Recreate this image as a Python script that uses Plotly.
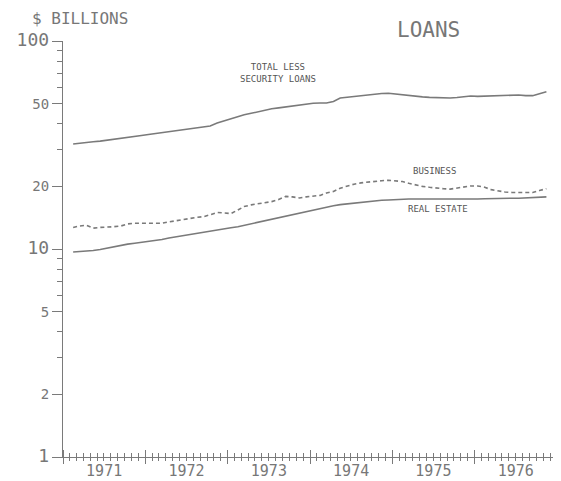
import plotly.graph_objects as go
import pandas as pd

# monthly observations, Feb 1971 - Nov 1976 (plotted mid-month)
months = pd.date_range("1971-02-01", periods=70, freq="MS") + pd.Timedelta(days=14)

total_less_security = [
    32.0, 32.3, 32.5, 32.8, 33.0, 33.3, 33.6, 34.0, 34.4, 34.8, 35.1, 35.5,
    35.9, 36.3, 36.6, 37.0, 37.5, 37.9, 38.3, 38.6, 39.0, 40.3, 41.3, 42.4,
    43.4, 44.2, 44.9, 45.7, 46.5, 47.2, 47.7, 48.2, 48.7, 49.2, 49.7, 50.2,
    50.3, 50.3, 51.2, 53.2, 53.7, 54.2, 54.7, 55.1, 55.5, 55.9, 56.1, 55.6,
    55.0, 54.6, 54.3, 53.9, 53.6, 53.4, 53.3, 53.2, 53.5, 54.0, 54.4, 54.2,
    54.4, 54.3, 54.4, 54.7, 54.9, 55.0, 54.6, 54.6, 55.8, 57.0,
]
business = [
    12.7, 12.9, 13.0, 12.6, 12.7, 12.8, 12.8, 12.9, 13.2, 13.3, 13.3, 13.2,
    13.2, 13.3, 13.5, 13.7, 13.8, 14.0, 14.2, 14.3, 14.6, 15.0, 14.9, 14.8,
    15.4, 16.0, 16.3, 16.5, 16.7, 16.9, 17.3, 17.9, 17.8, 17.6, 17.8, 18.0,
    18.1, 18.6, 18.9, 19.6, 20.1, 20.5, 20.8, 21.0, 21.2, 21.3, 21.4, 21.3,
    21.1, 20.7, 20.3, 20.0, 19.8, 19.6, 19.5, 19.4, 19.6, 19.9, 20.1, 20.1,
    19.8, 19.3, 19.0, 18.8, 18.7, 18.7, 18.8, 18.7, 19.1, 19.5,
]
real_estate = [
    9.68, 9.72, 9.78, 9.84, 9.95, 10.1, 10.25, 10.45, 10.55, 10.65, 10.75, 10.85,
    10.95, 11.1, 11.3, 11.45, 11.6, 11.75, 11.9, 12.05, 12.2, 12.35, 12.5, 12.65,
    12.8, 13.0, 13.2, 13.45, 13.7, 13.95, 14.2, 14.45, 14.7, 14.95, 15.2, 15.45,
    15.7, 15.95, 16.15, 16.35, 16.5, 16.65, 16.8, 16.95, 17.05, 17.15, 17.2, 17.3,
    17.35, 17.4, 17.4, 17.4, 17.35, 17.3, 17.3, 17.3, 17.3, 17.35, 17.35, 17.4,
    17.45, 17.5, 17.5, 17.5, 17.55, 17.55, 17.6, 17.65, 17.75, 17.8,
]

y_ticks = [1, 2, 5, 10, 20, 50, 100]
y_minor = [3, 4, 6, 7, 8, 9, 30, 40, 60, 70, 80, 90]

FONT = "DejaVu Sans Mono"
INK = "#777777"
LINE = "#7a7a7a"

fig = go.Figure()

fig.add_trace(go.Scatter(x=months, y=total_less_security, mode="lines",
                         line=dict(color=LINE, width=1.6)))
fig.add_trace(go.Scatter(x=months, y=business, mode="lines",
                         line=dict(color=LINE, width=1.6, dash="4px,3px")))
fig.add_trace(go.Scatter(x=months, y=real_estate, mode="lines",
                         line=dict(color=LINE, width=1.6)))
# invisible trace so the second x axis (crossing ticks) is drawn
fig.add_trace(go.Scatter(x=months[:1], y=real_estate[:1], xaxis="x2",
                         mode="markers", marker=dict(opacity=0),
                         hoverinfo="skip"))

# tick labels: decades bigger than 2 and 5
big = {1, 10, 100}
y_text = [f'<span style="font-size:18px">{v}</span>' if v in big else str(v)
          for v in y_ticks]

xrange = ["1971-01-01", "1977-01-01"]


def label(text, x, y, size, color="#555555", xanchor="center"):
    fig.add_annotation(text=text, x=x, y=y, xref="paper", yref="paper",
                       xanchor=xanchor, yanchor="middle", showarrow=False,
                       font=dict(family=FONT, size=size, color=color))


label("TOTAL LESS<br>SECURITY LOANS", 0.435, 0.923, 9)
label("BUSINESS", 0.753, 0.6875, 9)
label("REAL ESTATE", 0.759, 0.596, 9)
label("$ BILLIONS", -0.067, 1.054, 16, INK, "left")
label("LOANS", 0.739, 1.026, 21, INK)

# page body has an 8px margin, so the figure is sized to fill the rest
fig.update_layout(
    width=553, height=473,
    margin=dict(l=55, r=4, t=33, b=24),
    showlegend=False,
    plot_bgcolor="white", paper_bgcolor="white",
    font=dict(family=FONT, color=INK),
    xaxis=dict(
        type="date", range=xrange, showgrid=False, zeroline=False,
        automargin=False,
        showline=True, linecolor=LINE, linewidth=1.2,
        tick0="1971-01-01", dtick="M12", ticklabelmode="period",
        tickformat="%Y", ticks="inside", ticklen=7, tickcolor=LINE,
        tickfont=dict(size=15, color=INK),
        minor=dict(dtick="M1", tick0="1971-01-01", ticks="inside",
                   ticklen=4, tickcolor=LINE, showgrid=False),
    ),
    xaxis2=dict(
        type="date", range=xrange, overlaying="x", anchor="y", side="bottom",
        showgrid=False, zeroline=False, showline=False, showticklabels=False,
        automargin=False,
        tick0="1971-01-01", dtick="M12", ticks="outside", ticklen=6,
        tickcolor=LINE,
        minor=dict(dtick="M1", tick0="1971-01-01", ticks="outside",
                   ticklen=3, tickcolor=LINE, showgrid=False),
    ),
    yaxis=dict(
        type="log", range=[0, 2], showgrid=False, zeroline=False,
        automargin=False,
        showline=True, linecolor=LINE, linewidth=1.2,
        tickvals=y_ticks, ticktext=y_text, ticks="outside", ticklen=10,
        tickcolor=LINE, tickfont=dict(size=14, color=INK),
        minor=dict(tickvals=y_minor, ticks="outside", ticklen=5,
                   tickcolor=LINE, showgrid=False),
    ),
)

fig.write_html("out.html")
